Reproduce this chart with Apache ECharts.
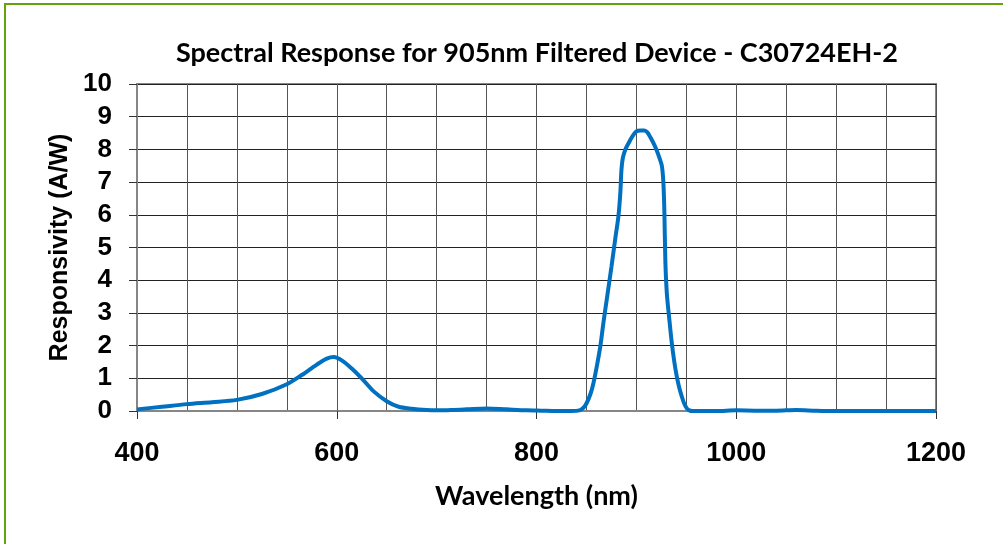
<!DOCTYPE html>
<html><head><meta charset="utf-8">
<script src="https://cdn.jsdelivr.net/npm/echarts@6/dist/echarts.min.js"></script>
<style>html,body{margin:0;padding:0;background:#fff}#c{width:1003px;height:544px}</style>
</head><body><div id="c"></div>
<script>
const wavelength = [400,425,450,475,500,525,550,565,580,590,597,605,615,625,637,650,662,675,690,700,715,730,750,770,790,805,820,835,843,847,850,854,857,860,864,867,871,875,879,882,884,885,886.5,889,892,896,900,904,908,911,914,917,920,923,925.5,927,928,929,930.5,933,935.5,938,940.5,943,945.5,948,950.5,953,956,965,980,1000,1020,1040,1060,1080,1100,1130,1160,1200];
const responsivity = [0.05,0.13,0.21,0.27,0.34,0.52,0.82,1.1,1.42,1.6,1.65,1.55,1.3,1.0,0.6,0.3,0.13,0.07,0.03,0.02,0.03,0.05,0.08,0.05,0.02,0.01,0.0,0.0,0.02,0.1,0.23,0.52,0.85,1.3,2.0,2.7,3.55,4.4,5.3,5.95,6.7,7.35,7.75,8.0,8.18,8.4,8.55,8.58,8.58,8.52,8.37,8.2,8.0,7.75,7.5,7.0,6.15,4.6,3.6,2.8,2.07,1.5,1.05,0.7,0.44,0.22,0.08,0.02,0.0,0.0,0.0,0.02,0.01,0.01,0.03,0.01,0.0,0.0,0.0,0.0];
const xTicks = [400,600,800,1000,1200];
const yTicks = [0,1,2,3,4,5,6,7,8,9,10];
const titleText = 'Spectral Response for 905nm Filtered Device - C30724EH-2';
const xName = 'Wavelength (nm)';
const yName = 'Responsivity (A/W)';

const chart = echarts.init(document.getElementById('c'), null, {renderer:'canvas'});
const data = wavelength.map((w,i)=>[w,responsivity[i]]);
chart.setOption({
  animation:false,
  backgroundColor:'#fff',
  title:{text:titleText,left:532,top:35,textAlign:'center',
    textStyle:{fontFamily:'Lato',fontWeight:'bold',fontSize:27,color:'#000'}},
  graphic:[{type:'rect',shape:{x:5,y:4,width:1200,height:700},
    style:{fill:null,stroke:'#65a30d',lineWidth:2},silent:true,z:100}],
  grid:{left:137,right:67,top:84,bottom:133,show:true,borderColor:'#868686',borderWidth:2,backgroundColor:'transparent'},
  xAxis:{type:'value',min:xTicks[0],max:xTicks[xTicks.length-1],interval:200,
    name:xName,nameLocation:'middle',nameGap:72,
    nameTextStyle:{fontFamily:'Lato',fontWeight:'bold',fontSize:27,color:'#000'},
    axisLine:{show:true,onZero:false,lineStyle:{color:'#868686',width:2}},
    axisTick:{show:true,length:8,lineStyle:{color:'#333',width:1}},
    axisLabel:{margin:29,fontFamily:'Liberation Sans',fontWeight:'bold',fontSize:27,color:'#000',
      formatter:v=>xTicks.includes(v)?String(v):''},
    splitLine:{show:true,lineStyle:{color:'#555',width:1}},
    minorTick:{show:false,splitNumber:4},
    minorSplitLine:{show:true,lineStyle:{color:'#555',width:1}}},
  yAxis:{type:'value',min:yTicks[0],max:yTicks[yTicks.length-1],interval:1,
    name:yName,nameLocation:'middle',nameGap:58,
    nameTextStyle:{fontFamily:'Liberation Sans',fontWeight:'bold',fontSize:25,color:'#000'},
    axisLine:{show:true,lineStyle:{color:'#868686',width:2}},
    axisTick:{show:true,length:8,lineStyle:{color:'#333',width:1}},
    axisLabel:{margin:25,fontFamily:'Liberation Sans',fontWeight:'bold',fontSize:26,color:'#000'},
    splitLine:{show:true,lineStyle:{color:'#222',width:1}}},
  series:[{type:'line',data:data,smooth:0.3,showSymbol:false,symbol:'none',
    lineStyle:{color:'#0070c0',width:4},z:10}]
});
</script></body></html>
